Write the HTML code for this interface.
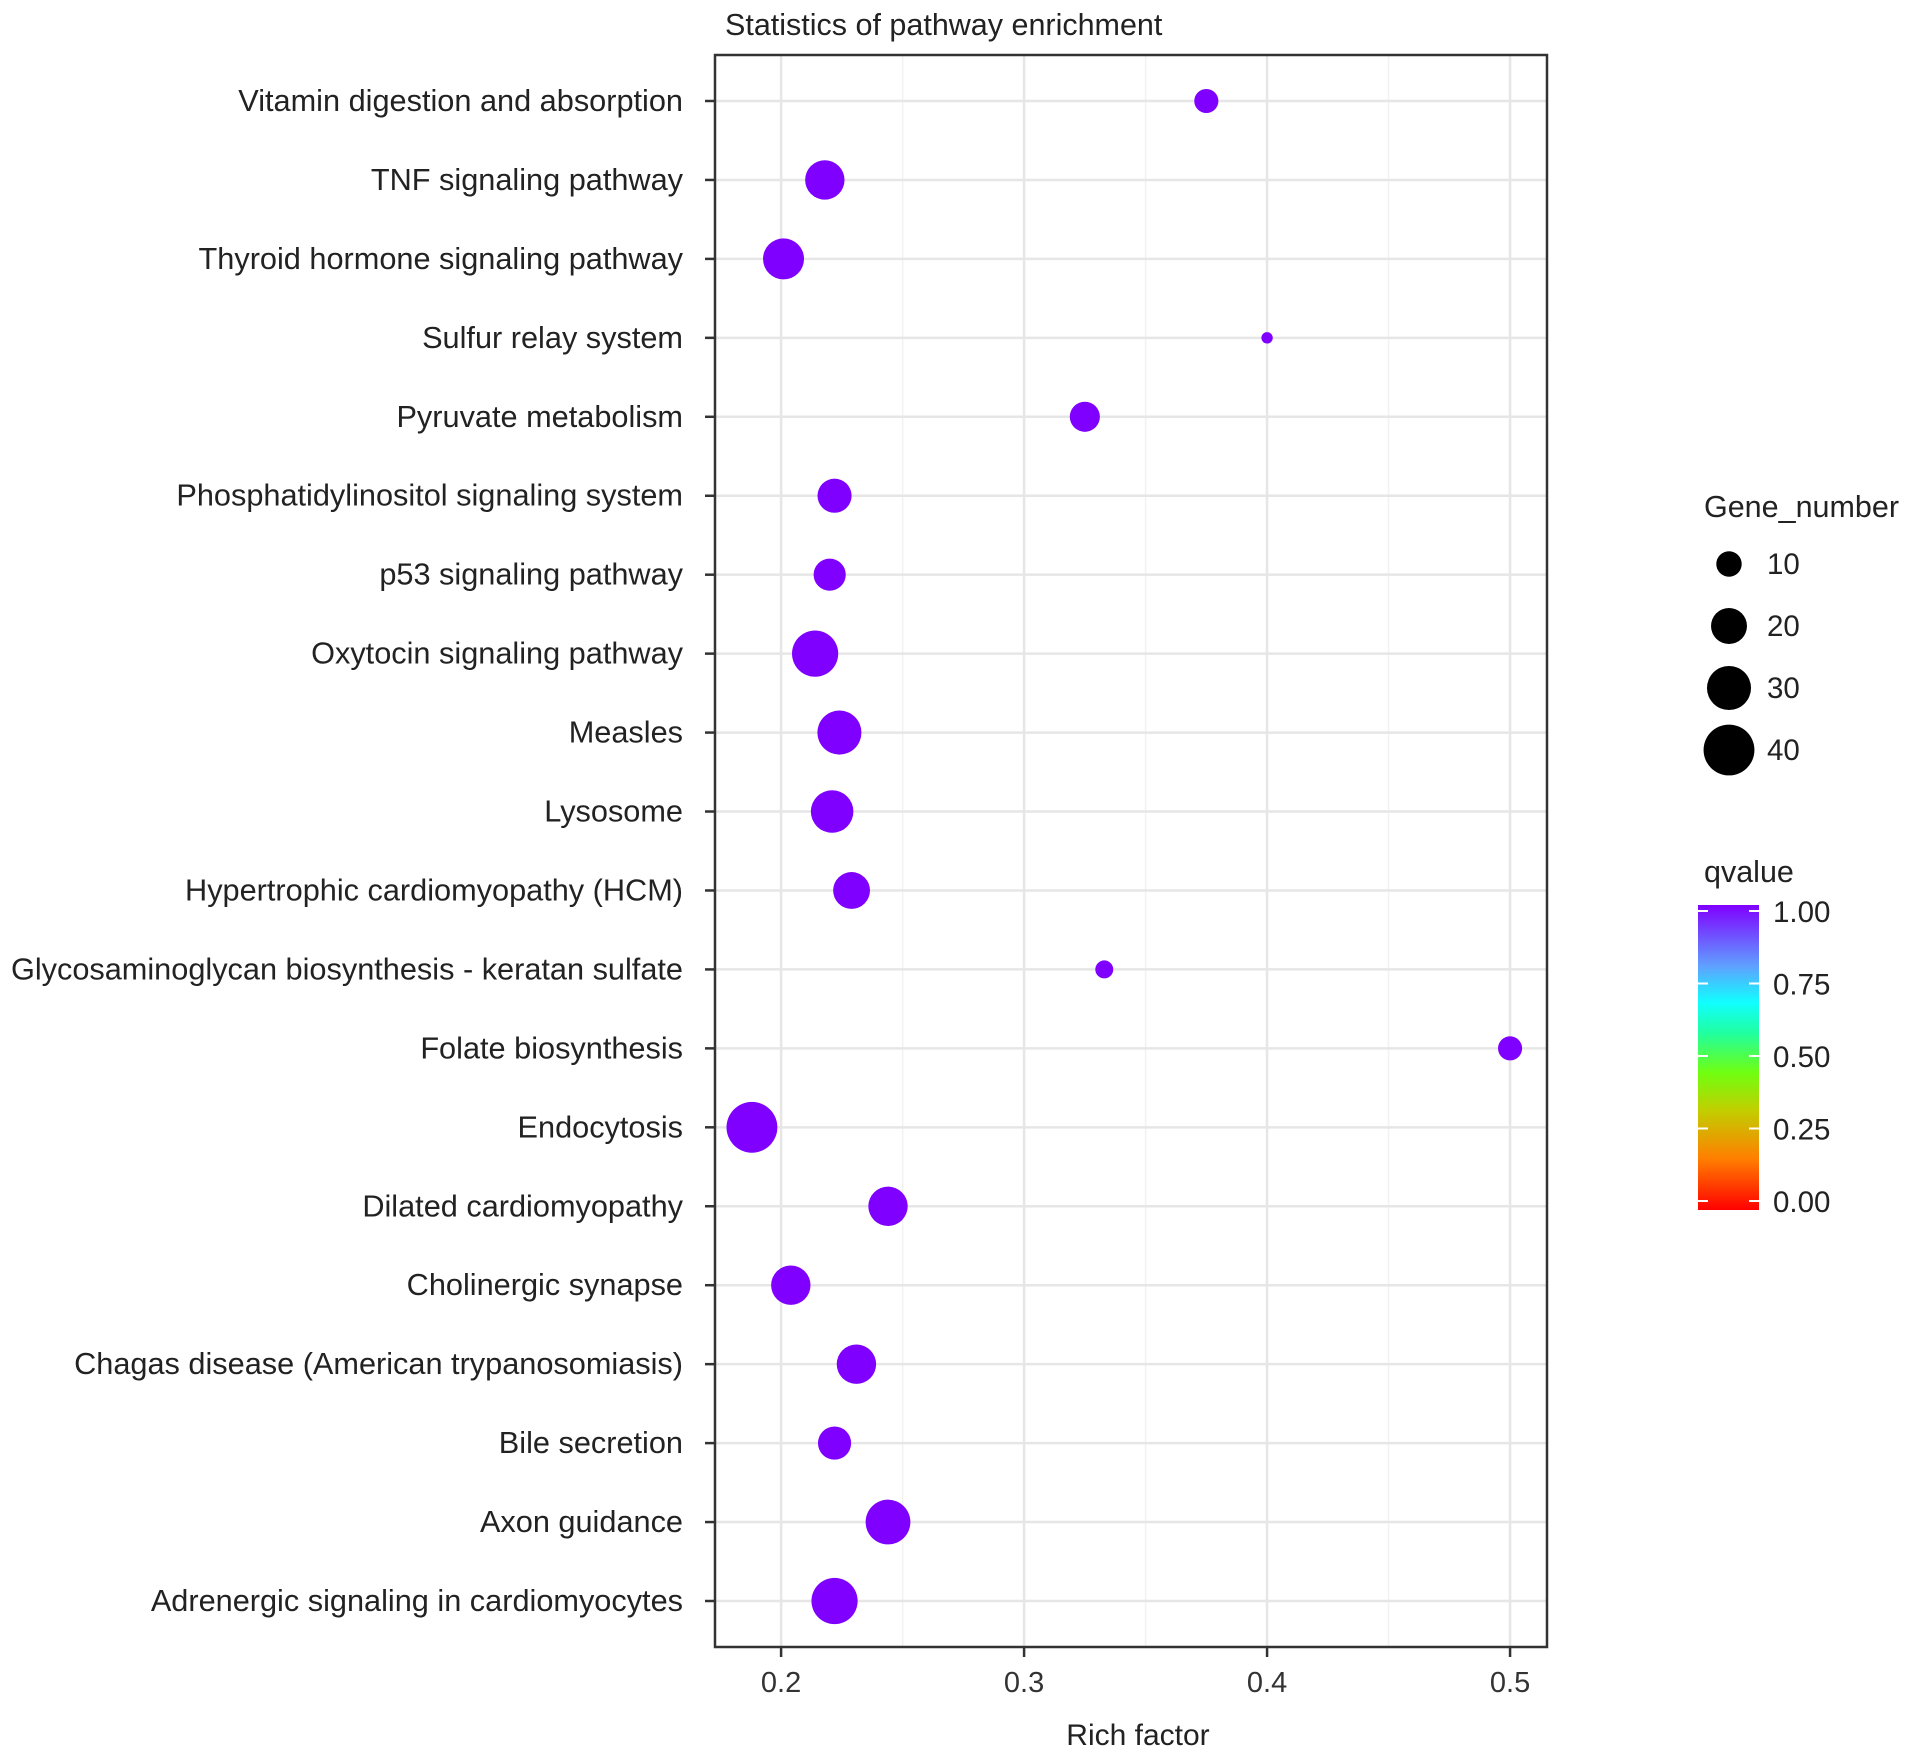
<!DOCTYPE html>
<html><head><meta charset="utf-8"><style>
body{margin:0;background:#fff;}
svg{display:block;font-family:"Liberation Sans",Arial,sans-serif;}
</style></head><body>
<svg id="chart" width="1913" height="1758">
<defs><linearGradient id="qgrad" x1="0" y1="1" x2="0" y2="0">
<stop offset="0" stop-color="#ff0000"/><stop offset="0.17" stop-color="#ff8000"/><stop offset="0.33" stop-color="#c0d000"/><stop offset="0.45" stop-color="#70ff10"/><stop offset="0.58" stop-color="#20ffa0"/><stop offset="0.68" stop-color="#10ffff"/><stop offset="0.8" stop-color="#60a0ff"/><stop offset="1" stop-color="#8000ff"/>
</linearGradient></defs>
<text x="725" y="35" font-size="30.5" fill="#222">Statistics of pathway enrichment</text>
<g id="grid"></g><g id="points"></g><g id="axes"></g>
<text x="1138" y="1745" font-size="30" fill="#222" text-anchor="middle">Rich factor</text>
<g id="legend"></g>
</svg>
<script>
const categories=["Vitamin digestion and absorption","TNF signaling pathway","Thyroid hormone signaling pathway","Sulfur relay system","Pyruvate metabolism","Phosphatidylinositol signaling system","p53 signaling pathway","Oxytocin signaling pathway","Measles","Lysosome","Hypertrophic cardiomyopathy (HCM)","Glycosaminoglycan biosynthesis - keratan sulfate","Folate biosynthesis","Endocytosis","Dilated cardiomyopathy","Cholinergic synapse","Chagas disease (American trypanosomiasis)","Bile secretion","Axon guidance","Adrenergic signaling in cardiomyocytes"];
const richFactor=[0.375,0.218,0.201,0.400,0.325,0.222,0.220,0.214,0.224,0.221,0.229,0.333,0.500,0.188,0.244,0.204,0.231,0.222,0.244,0.222];
const geneNumber=[9,24,26,2,14,18,16,33,30,28,21,5,9,40,24,24,24,17,31,33];
const qvalue=[1,1,1,1,1,1,1,1,1,1,1,1,1,1,1,1,1,1,1,1];
const xTicks=[0.2,0.3,0.4,0.5];
const xMinor=[0.25,0.35,0.45];
const sizeLegend=[10,20,30,40];
const qTicks=["1.00","0.75","0.50","0.25","0.00"];
const NS="http://www.w3.org/2000/svg";
const L=715,R=1547,T=55,B=1647;
const xMin=0.1728,xMax=0.5152;
function xs(v){return L+(v-xMin)/(xMax-xMin)*(R-L);}
function ys(i){return 101+i*(1601-101)/(categories.length-1);}
function rs(n){return 4.02*Math.sqrt(n);}
function mk(tag,attrs,parent){const e=document.createElementNS(NS,tag);for(const k in attrs)e.setAttribute(k,attrs[k]);parent.appendChild(e);return e;}
const grid=document.getElementById('grid'),pts=document.getElementById('points'),axes=document.getElementById('axes'),leg=document.getElementById('legend');
xMinor.forEach(v=>{const l=mk('line',{x1:xs(v),x2:xs(v),y1:T,y2:B,stroke:'#f2f2f2','stroke-width':1.5},grid);

});
xTicks.forEach(v=>{const l=mk('line',{x1:xs(v),x2:xs(v),y1:T,y2:B,stroke:'#e6e6e6','stroke-width':2.5},grid);


const t=mk('line',{x1:xs(v),x2:xs(v),y1:B,y2:B+10,stroke:'#333','stroke-width':2.5},axes);


const tx=mk('text',{x:xs(v),y:1692,'font-size':29,fill:'#333','text-anchor':'middle'},axes);tx.textContent=v.toFixed(1);

});
categories.forEach((c,i)=>{const y=ys(i);
const g=mk('line',{x1:L,x2:R,y1:y,y2:y,stroke:'#e6e6e6','stroke-width':2.5},grid);


const t=mk('line',{x1:705,x2:L,y1:y,y2:y,stroke:'#333','stroke-width':2.5},axes);


const tx=mk('text',{x:683,y:y+10,'font-size':30.7,fill:'#222','text-anchor':'end'},axes);tx.textContent=c;


const p=mk('circle',{cx:xs(richFactor[i]),cy:y,r:rs(geneNumber[i]),fill:'#7f00ff'},pts);

});
const frame=mk('rect',{x:L,y:T,width:R-L,height:B-T,fill:'none',stroke:'#333','stroke-width':2.5},axes);


const gt=mk('text',{x:1704,y:517,'font-size':30.5,fill:'#222'},leg);gt.textContent='Gene_number';


sizeLegend.forEach((n,i)=>{const y=564+i*62;
const c=mk('circle',{cx:1729,cy:y,r:rs(n),fill:'#000'},leg);


const t=mk('text',{x:1767,y:y+10,'font-size':29.5,fill:'#222'},leg);t.textContent=n;

});
const qt=mk('text',{x:1704,y:882,'font-size':30.5,fill:'#222'},leg);qt.textContent='qvalue';


const bar=mk('rect',{x:1698,y:905,width:61,height:305,fill:'url(#qgrad)'},leg);


qTicks.forEach((q,i)=>{const y=911+i*72.5;
const t=mk('text',{x:1773,y:y+11,'font-size':29.5,fill:'#222'},leg);t.textContent=q;


const a=mk('line',{x1:1698,x2:1708,y1:y,y2:y,stroke:'#fff','stroke-width':2},leg);


const b=mk('line',{x1:1749,x2:1759,y1:y,y2:y,stroke:'#fff','stroke-width':2},leg);

});
</script>
</body></html>
